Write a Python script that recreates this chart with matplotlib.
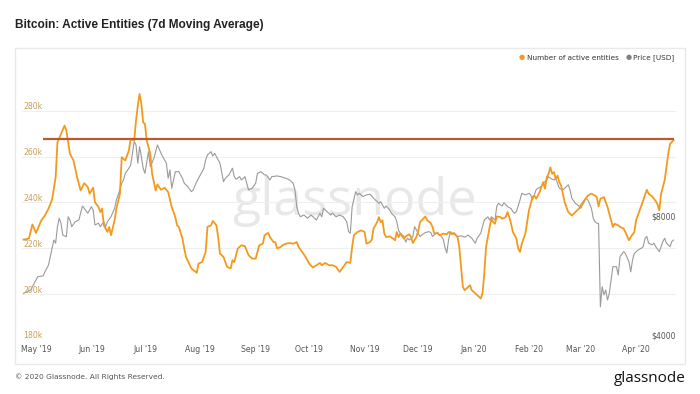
import matplotlib
matplotlib.use("Agg")
import matplotlib.pyplot as plt
import matplotlib.transforms as mtransforms
from matplotlib.patches import Rectangle
import pandas as pd

# ---------------- data ----------------
START = pd.Timestamp("2019-05-01")

# active entities (thousands), days since 2019-05-01
ent_days = [-7, -4, -2, 0, 3, 5, 7, 9, 11, 12, 14, 16, 17, 19, 21, 23, 25, 27, 29, 30, 32, 33, 35, 36, 37, 38,
            40, 41, 42, 44, 45, 47, 48, 50, 52, 53, 55, 56, 57, 58, 59, 60, 61, 62, 64, 65, 67, 68, 70, 72, 74,
            76, 78, 79, 80, 82, 83, 84, 87, 90, 91, 93, 95, 96, 98, 99, 101, 102, 103, 105, 107, 109, 110, 111,
            113, 115, 117, 119, 121, 123, 125, 127, 128, 130, 131, 133, 134, 135, 137, 138, 140, 142, 144, 146,
            147, 149, 151, 153, 155, 157, 159, 160, 162, 164, 166, 168, 170, 172, 174, 176, 177, 178, 180, 182,
            184, 185, 187, 188, 189, 191, 192, 193, 194, 195, 196, 198, 200, 201, 202, 203, 204, 206, 207, 209,
            210, 211, 213, 214, 215, 216, 218, 219, 221, 222, 223, 225, 226, 228, 230, 231, 233, 234, 236, 237,
            238, 239, 240, 242, 243, 244, 246, 247, 249, 250, 251, 252, 254, 255, 256, 257, 258, 260, 261, 263,
            264, 265, 266, 267, 269, 270, 271, 272, 274, 275, 276, 278, 279, 280, 281, 282, 283, 284, 285, 286,
            287, 288, 289, 290, 291, 292, 293, 294, 295, 296, 297, 298, 300, 302, 304, 305, 307, 309, 311, 313,
            314, 315, 316, 318, 319, 320, 321, 322, 323, 324, 326, 327, 329, 330, 332, 333, 335, 336, 338, 340,
            342, 343, 345, 347, 348, 349, 350, 352, 353, 354, 355, 357]
ent_k = [223.8, 224.2, 230.4, 226.7, 232.2, 234.3, 237.3, 241.2, 251.0, 266.2, 269.9, 273.5, 271.3, 261.2, 258.3,
         251.0, 245.2, 248.4, 246.7, 243.8, 246.4, 240.1, 238.0, 235.8, 237.3, 230.0, 227.1, 229.3, 225.7, 232.2,
         237.3, 243.8, 259.7, 258.3, 262.6, 267.7, 267.0, 275.7, 282.2, 287.3, 282.9, 274.9, 274.2, 267.0, 261.2,
         252.5, 245.2, 247.8, 245.5, 246.4, 244.5, 238.0, 233.6, 230.0, 229.3, 224.2, 219.9, 216.2, 211.2, 209.3,
         213.3, 214.0, 218.4, 229.3, 230.0, 231.9, 230.0, 224.9, 217.7, 216.2, 211.9, 211.2, 214.8, 214.0, 219.9,
         221.3, 220.9, 217.0, 215.5, 215.5, 221.3, 222.0, 225.7, 226.7, 224.9, 222.7, 222.7, 219.9, 220.6, 221.3,
         222.0, 222.3, 222.0, 222.7, 220.6, 218.4, 216.2, 213.3, 211.6, 212.6, 213.6, 212.6, 213.6, 212.6, 212.6,
         211.9, 209.7, 211.9, 214.0, 213.6, 220.6, 225.7, 227.1, 227.8, 227.1, 222.0, 222.7, 223.8, 228.6, 231.4,
         233.6, 231.4, 232.2, 226.4, 224.9, 225.2, 224.2, 223.5, 227.1, 224.9, 226.4, 224.2, 225.2, 226.1, 224.9,
         222.3, 224.9, 227.5, 231.4, 232.2, 233.9, 232.2, 231.0, 229.3, 226.4, 226.7, 225.7, 226.4, 226.1, 227.1,
         226.1, 226.7, 224.9, 220.6, 211.9, 203.2, 201.7, 203.2, 203.9, 201.7, 200.3, 199.6, 198.1, 200.3, 209.0,
         220.6, 229.3, 232.9, 231.4, 230.7, 233.9, 233.6, 232.9, 233.6, 235.8, 233.6, 230.7, 227.1, 224.2, 219.9,
         218.4, 222.0, 226.4, 231.4, 236.5, 242.3, 243.0, 241.6, 243.0, 244.5, 247.0, 248.8, 246.0, 251.0, 252.5,
         255.3, 252.5, 253.2, 250.3, 251.7, 248.8, 247.4, 243.8, 240.1, 238.0, 235.8, 234.3, 235.8, 237.3, 238.7,
         240.9, 243.0, 243.8, 243.0, 242.3, 238.3, 241.6, 242.3, 240.1, 238.0, 235.1, 232.2, 229.3, 230.7, 230.0,
         229.3, 228.6, 227.1, 223.5, 224.9, 227.1, 232.2, 236.5, 240.9, 245.5, 243.8, 242.6, 240.6, 239.1, 236.5,
         243.8, 249.6, 255.3, 261.2, 265.5, 267.2]

# BTC price (USD), days since 2019-05-01
price_days = [-7, -3, -1, 1, 4, 5, 7, 8, 10, 11, 12, 13, 14, 15, 17, 18, 19, 20, 22, 24, 26, 27, 29, 31, 32, 33,
              35, 36, 38, 39, 40, 42, 44, 45, 46, 48, 49, 50, 52, 53, 55, 56, 57, 58, 59, 60, 61, 63, 64, 66, 68,
              70, 71, 73, 74, 75, 76, 78, 80, 82, 83, 85, 87, 88, 90, 92, 94, 95, 96, 98, 99, 100, 102, 103, 105,
              106, 108, 110, 111, 112, 114, 115, 117, 118, 119, 121, 123, 124, 126, 128, 129, 131, 132, 135, 137,
              138, 140, 142, 144, 145, 146, 147, 148, 150, 152, 154, 156, 157, 159, 160, 161, 163, 165, 166, 168,
              170, 172, 174, 175, 176, 177, 179, 180, 181, 183, 185, 187, 189, 190, 192, 193, 195, 196, 198, 199,
              201, 202, 203, 204, 206, 207, 208, 209, 211, 212, 214, 215, 216, 218, 220, 221, 222, 224, 225, 227,
              228, 229, 230, 231, 232, 233, 235, 236, 238, 240, 242, 244, 246, 247, 249, 250, 251, 253, 254, 255,
              257, 258, 259, 261, 262, 264, 265, 266, 267, 268, 269, 271, 272, 274, 276, 277, 278, 280, 281, 283,
              284, 286, 287, 288, 290, 291, 292, 293, 295, 296, 298, 299, 300, 302, 304, 305, 306, 308, 309, 311,
              312, 313, 314, 315, 316, 317, 318, 319, 320, 321, 322, 323, 325, 326, 327, 329, 330, 332, 333, 334,
              335, 337, 339, 340, 341, 342, 343, 345, 346, 347, 349, 351, 352, 353, 355, 356, 357]
price_usd = [5250, 5350, 5565, 5785, 5810, 5950, 6190, 6500, 7160, 7030, 7740, 8130, 7900, 7370, 7300, 8200, 8045,
             7740, 7970, 8045, 8730, 8615, 8370, 8695, 8530, 7815, 7900, 7740, 7970, 7740, 7970, 8200, 8615, 9040,
             9310, 9970, 10160, 10560, 10880, 11080, 12700, 12460, 11200, 12330, 11630, 10880, 10560, 11980, 10980,
             11530, 12460, 11870, 11630, 11200, 10260, 10770, 9680, 10660, 10660, 10260, 9970, 9770, 9490, 9590,
             10060, 10460, 10880, 11420, 11750, 11980, 11680, 11870, 11420, 11200, 10060, 10260, 10460, 10880,
             10360, 10200, 10360, 10160, 10360, 9970, 9590, 9680, 9970, 10560, 10660, 10460, 10460, 10160, 10360,
             10400, 10360, 10320, 10260, 10160, 9970, 9590, 8695, 8370, 8200, 8285, 8130, 8285, 8130, 8045, 8370,
             8200, 8615, 8450, 8285, 8370, 8200, 8285, 8200, 7970, 7520, 7450, 8695, 9490, 9310, 9400, 9230, 9310,
             9350, 9140, 9040, 8870, 8950, 8615, 8730, 8530, 8370, 8200, 7970, 7580, 7450, 7310, 7075, 7235, 7160,
             7310, 7740, 7450, 7310, 7370, 7480, 7520, 7480, 7310, 7450, 7420, 7310, 7200, 6860, 6640, 7160, 7520,
             7450, 7370, 7310, 7340, 7280, 7370, 7235, 7030, 7235, 7450, 7740, 8045, 8200, 8045, 8200, 8045, 8720,
             8870, 8730, 8900, 8700, 8650, 8600, 8450, 8370, 8450, 9040, 9400, 9310, 9400, 9310, 9040, 9590, 9680,
             9770, 9970, 10160, 10360, 10260, 10160, 10260, 9970, 9680, 9590, 9680, 9880, 9590, 9140, 8870, 8730,
             8615, 8780, 9140, 9040, 8615, 8130, 7970, 7900, 7880, 4855, 5455, 5200, 5350, 5050, 5250, 5670, 6130,
             6130, 5840, 6500, 6690, 6620, 6310, 5950, 6375, 6620, 6755, 6830, 6890, 7235, 7310, 7030, 6960, 7030,
             6890, 6690, 7100, 7235, 7030, 6890, 7100, 7160]

month_labels = ["May '19", "Jun '19", "Jul '19", "Aug '19", "Sep '19", "Oct '19", "Nov '19", "Dec '19",
                "Jan '20", "Feb '20", "Mar '20", "Apr '20"]
month_starts = pd.date_range("2019-05-01", periods=12, freq="MS")
left_ticks_k = [180, 200, 220, 240, 260, 280]
right_ticks_usd = [4000, 8000]
ref_level_k = 267.5
ref_start = "2019-05-05"

title = "Bitcoin: Active Entities (7d Moving Average)"
legend_labels = ["Number of active entities", "Price [USD]"]

# ---------------- style ----------------
ORANGE = "#f39a1e"
GRAY = "#9a9a9a"
REDLINE = "#b85a35"
LBL_GOLD = "#c4a15a"
TXT = "#555555"

W, H = 700, 394
fig = plt.figure(figsize=(7.0, 3.94), dpi=100)
fig.patch.set_facecolor("white")


def fx(px):
    return px / W


def fy(py):
    return 1 - py / H


# panel
fig.patches.append(Rectangle((fx(15), fy(364)), fx(685) - fx(15), fy(48) - fy(364),
                             transform=fig.transFigure, facecolor="white", edgecolor="#e9e9e9", lw=1.0,
                             zorder=-5))

# axes area in pixels
AX_L, AX_R, AX_T, AX_B = 22, 676, 68, 340
PX_PER_DAY = 1.786
PX_PER_K = 2.293
PX_PER_DOUBLING = 119.0
X0_PX = 36  # pixel of START

ax = fig.add_axes([fx(AX_L), fy(AX_B), fx(AX_R) - fx(AX_L), fy(AX_T) - fy(AX_B)])
ax2 = ax.twinx()
ax.set_zorder(1)
ax2.set_zorder(2)

ent_dates = START + pd.to_timedelta(ent_days, unit="D")
price_dates = START + pd.to_timedelta(price_days, unit="D")

# watermark
ax.text(355 / W, fy(215), "glassnode", transform=fig.transFigure, ha="center", va="baseline",
        fontsize=37.5, color="#e8e8e8", family="Open Sans", zorder=0)

# gridlines
for v in left_ticks_k:
    ax.axhline(v, color="#efefef", lw=0.8, zorder=1)

# price line (log)
ax2.plot(price_dates, price_usd, color=GRAY, lw=0.8, zorder=2)
# entity line on top, plotted in ax2 with ax's data transform
ax2.plot(ent_dates, ent_k, color=ORANGE, lw=1.3, zorder=3, transform=ax.transData)
# reference line
ax2.plot([pd.Timestamp(ref_start), ent_dates[-1]], [ref_level_k, ref_level_k], color=REDLINE, lw=1.6,
         zorder=4, transform=ax.transData, solid_capstyle="butt")

# limits
xmin = START + pd.Timedelta(days=(AX_L - X0_PX) / PX_PER_DAY)
xmax = START + pd.Timedelta(days=(AX_R - X0_PX) / PX_PER_DAY)
ax.set_xlim(xmin, xmax)
ax2.set_xlim(xmin, xmax)
ax.set_ylim(180, 180 + (AX_B - AX_T) / PX_PER_K)
ax2.set_yscale("log")
ax2.set_ylim(4000, 4000 * 2 ** ((AX_B - AX_T) / PX_PER_DOUBLING))

for a in (ax, ax2):
    a.set_facecolor("none")
    for s in a.spines.values():
        s.set_visible(False)
    a.tick_params(left=False, right=False, bottom=False, top=False,
                  labelleft=False, labelright=False, labelbottom=False)
    a.minorticks_off()

# left tick labels (inside, above gridline)
off = mtransforms.ScaledTranslation(0, 4 / 100, fig.dpi_scale_trans)
tl = mtransforms.blended_transform_factory(fig.transFigure, ax.transData) + off
for v in left_ticks_k:
    ax2.text(fx(23), v, f"{v}k", transform=tl, ha="left", va="center", fontsize=5.6,
             color=LBL_GOLD, family="DejaVu Sans", zorder=5)
# right tick labels
tr = mtransforms.blended_transform_factory(fig.transFigure, ax2.transData) + off
for v in right_ticks_usd:
    ax2.text(fx(676), v, f"${v}", transform=tr, ha="right", va="center", fontsize=5.6,
             color=TXT, family="DejaVu Sans", zorder=5)
# x tick labels
txb = mtransforms.blended_transform_factory(ax.transData, fig.transFigure)
for d, lab in zip(month_starts, month_labels):
    ax2.text(d, fy(350), lab, transform=txb, ha="center", va="center", fontsize=5.6,
             color=TXT, family="DejaVu Sans", clip_on=False)

# title
fig.text(fx(15), fy(25), title, ha="left", va="center", fontsize=8.55, fontweight="bold",
         color="#222222", family="Liberation Sans")

# legend
ly = fy(57.5)
fig.text(fx(522), ly, "\u25cf", ha="center", va="center", fontsize=5, color=ORANGE, family="DejaVu Sans")
fig.text(fx(527), ly, legend_labels[0], ha="left", va="center", fontsize=5.2, color="#333333",
         family="DejaVu Sans")
fig.text(fx(629), ly, "\u25cf", ha="center", va="center", fontsize=5, color="#808080", family="DejaVu Sans")
fig.text(fx(633), ly, legend_labels[1], ha="left", va="center", fontsize=5.2, color="#333333",
         family="DejaVu Sans")

# footer
fig.text(fx(15), fy(377), "\u00a9 2020 Glassnode. All Rights Reserved.", ha="left", va="center",
         fontsize=5.4, color=TXT, family="DejaVu Sans")
fig.text(fx(686), fy(382), "glassnode", ha="right", va="baseline", fontsize=11, color="#111111",
         family="Open Sans")

fig.savefig("out.png", dpi=100, facecolor="white")
